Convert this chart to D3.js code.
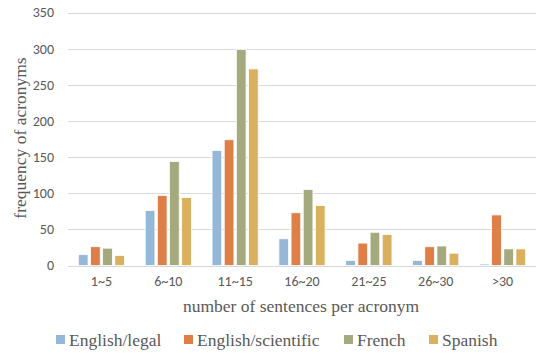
<!DOCTYPE html>
<html>
<head>
<meta charset="utf-8">
<script src="https://cdn.jsdelivr.net/npm/d3@7"></script>
<style>
  html, body { margin: 0; padding: 0; background: #fff; }
  svg { display: block; }
</style>
</head>
<body>
<svg id="chart" width="537" height="354"></svg>
<script>
// Sentence-count buckets and acronym frequencies per corpus
const categories = ["1~5", "6~10", "11~15", "16~20", "21~25", "26~30", ">30"];
const seriesNames = ["English/legal", "English/scientific", "French", "Spanish"];
const englishLegal = [15, 76, 159, 37, 7, 7, 2];
const englishScientific = [26, 97, 174, 73, 31, 26, 70];
const french = [24, 144, 299, 105, 46, 27, 23];
const spanish = [14, 94, 272, 83, 43, 17, 23];
const yTicks = [0, 50, 100, 150, 200, 250, 300, 350];
const colors = ["#95B7D8", "#DF7F48", "#A4AA7E", "#D9B15E"];

const series = [englishLegal, englishScientific, french, spanish];

const svg = d3.select("#chart");
const plot = { left: 68, right: 536, top: 12.5, bottom: 265.5 };

const x = d3.scaleBand().domain(categories).range([plot.left, plot.right]).paddingInner(0).paddingOuter(0);
const xs = d3.scaleBand().domain(seriesNames).range([0, x.bandwidth()]).paddingInner(0.2).paddingOuter(0.85);
const y = d3.scaleLinear().domain([0, 350]).range([plot.bottom, plot.top]);

const sansFont = "Carlito, Lato, sans-serif";
const serifFont = "'Liberation Serif', 'Times New Roman', serif";

// Horizontal gridlines
svg.append("g")
  .selectAll("line")
  .data(yTicks)
  .join("line")
  .attr("x1", plot.left)
  .attr("x2", plot.right)
  .attr("y1", d => Math.round(y(d)) + 0.5)
  .attr("y2", d => Math.round(y(d)) + 0.5)
  .attr("stroke", "#D9D9D9")
  .attr("stroke-width", 1);

// Y axis tick labels
const yAxis = d3.axisLeft(y).tickValues(yTicks).tickSize(0).tickPadding(14);
const gy = svg.append("g").attr("transform", `translate(${plot.left},0)`).call(yAxis);
gy.select(".domain").remove();
gy.selectAll("text")
  .attr("font-family", sansFont)
  .attr("font-size", 14)
  .attr("fill", "#595959");

// X axis category labels
const xAxis = d3.axisBottom(x).tickSize(0).tickPadding(11);
const gx = svg.append("g").attr("transform", `translate(0,${plot.bottom})`).call(xAxis);
gx.select(".domain").remove();
gx.selectAll("text")
  .attr("font-family", sansFont)
  .attr("font-size", 14)
  .attr("fill", "#595959");

// Grouped bars
const groups = svg.append("g")
  .selectAll("g")
  .data(categories)
  .join("g")
  .attr("transform", d => `translate(${x(d)},0)`);

groups.selectAll("rect")
  .data((c, i) => series.map((s, j) => ({ name: seriesNames[j], value: s[i], color: colors[j] })))
  .join("rect")
  .attr("x", d => xs(d.name))
  .attr("width", xs.bandwidth())
  .attr("y", d => y(d.value))
  .attr("height", d => y(0) - y(d.value))
  .attr("fill", d => d.color)
  .attr("stroke", "#fff")
  .attr("stroke-width", 0.8);

// Axis titles
svg.append("text")
  .attr("transform", "translate(26,138) rotate(-90)")
  .attr("text-anchor", "middle")
  .attr("font-family", serifFont)
  .attr("font-size", 17.5)
  .attr("fill", "#595959")
  .text("frequency of acronyms");

svg.append("text")
  .attr("x", 301)
  .attr("y", 312)
  .attr("text-anchor", "middle")
  .attr("font-family", serifFont)
  .attr("font-size", 17.5)
  .attr("fill", "#595959")
  .text("number of sentences per acronym");

// Legend
const legendX = [56, 184, 344, 429];
const legend = svg.append("g")
  .selectAll("g")
  .data(seriesNames)
  .join("g")
  .attr("transform", (d, i) => `translate(${legendX[i]},340)`);

legend.append("rect")
  .attr("x", 0)
  .attr("y", -5)
  .attr("width", 9)
  .attr("height", 9)
  .attr("fill", (d, i) => colors[i]);

legend.append("text")
  .attr("x", 13)
  .attr("y", 5.5)
  .attr("font-family", serifFont)
  .attr("font-size", 17.5)
  .attr("fill", "#595959")
  .text(d => d);
</script>
</body>
</html>
